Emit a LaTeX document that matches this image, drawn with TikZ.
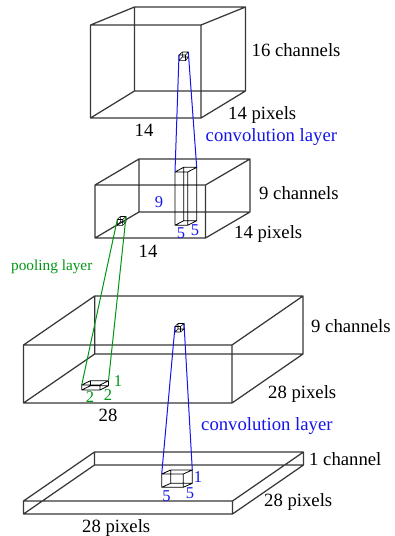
\documentclass[tikz,border=0pt]{standalone}
\usepackage{fontspec}
\setmainfont{Liberation Serif}
\definecolor{convblue}{RGB}{20,20,235}
\definecolor{poolgreen}{RGB}{0,150,20}
\tikzset{
  bigedge/.style={draw=black!78,line width=1.25pt,line join=round},
  smalledge/.style={draw=black,line width=0.8pt,line join=round},
  tinyedge/.style={draw=black,line width=0.55pt,line join=round},
  convline/.style={draw=convblue,line width=1pt},
  poolline/.style={draw=poolgreen,line width=1pt},
  txt/.style={inner sep=0pt,font=\fontsize{18.7}{20}\selectfont,anchor=base west},
  convtxt/.style={txt,text=convblue},
  dimblue/.style={inner sep=0pt,font=\fontsize{16.5}{18}\selectfont,anchor=base,text=convblue},
  dimgreen/.style={inner sep=0pt,font=\fontsize{16.5}{18}\selectfont,anchor=base,text=poolgreen},
  pooltxt/.style={inner sep=0pt,font=\fontsize{15.3}{17}\selectfont,anchor=base west,text=poolgreen}
}
% name, style, front top-left, front bottom-right, back top-left, back bottom-right
\newcommand{\wbox}[6]{%
  \coordinate (#1-ftl) at (#3);\coordinate (#1-fbr) at (#4);
  \coordinate (#1-btl) at (#5);\coordinate (#1-bbr) at (#6);
  \coordinate (#1-ftr) at (#1-fbr|-#1-ftl);\coordinate (#1-fbl) at (#1-ftl|-#1-fbr);
  \coordinate (#1-btr) at (#1-bbr|-#1-btl);\coordinate (#1-bbl) at (#1-btl|-#1-bbr);
  \path[#2] (#1-ftl)--(#1-ftr)--(#1-fbr)--(#1-fbl)--cycle
    (#1-btl)--(#1-btr)--(#1-bbr)--(#1-bbl)--cycle
    (#1-ftl)--(#1-btl) (#1-ftr)--(#1-btr) (#1-fbr)--(#1-bbr) (#1-fbl)--(#1-bbl);
}
\begin{document}
\begin{tikzpicture}[x=1pt,y=-1pt]
\useasboundingbox (0,0) rectangle (395,536);
% large boxes
\wbox{A}{bigedge}{90.5,25}{201,118}{134.5,7}{245.5,91}
\wbox{B}{bigedge}{95,185}{205.5,238}{139,159}{250,212}
\wbox{C}{bigedge}{23.5,345}{232,403}{94.7,296}{303,354}
\wbox{D}{bigedge}{23.5,501}{232.5,514}{94.5,452}{303.5,465}
% inner boxes
\wbox{a}{tinyedge}{179,55}{185.5,60.7}{182.3,52}{188.3,57}
\wbox{b}{smalledge}{175,172}{187.7,225.3}{183.7,167.3}{196.7,220.7}
\wbox{p}{tinyedge}{117.3,219.5}{122.7,225.3}{120.3,216.5}{126,222}
\wbox{c}{tinyedge}{175,326.5}{180.5,332}{178,323.5}{184,329}
\wbox{q}{smalledge}{81.7,385}{100,390}{90.5,380.7}{108.5,385.7}
\wbox{d}{smalledge}{161.7,474}{183.3,487.3}{170.7,470}{192.3,483.3}
% connectors
\draw[convline] (a-ftl)--(b-ftl);
\draw[convline] (a-btr)--(b-btr);
\draw[poolline] (p-ftl)--(q-ftl);
\draw[poolline] (p-btr)--(q-btr);
\draw[convline] (c-ftl)--(d-ftl);
\draw[convline] (c-btr)--(d-btr);
% labels
\node[txt] (t1) at (251.5,56) {16 channels};
\node[txt] (t2) at (228,119) {14 pixels};
\node[txt,anchor=base] (t3) at (144,136) {14};
\node[convtxt] (t4) at (205.5,141) {convolution layer};
\node[txt] (t5) at (259,199) {9 channels};
\node[txt] (t6) at (234,238) {14 pixels};
\node[txt,anchor=base] (t7) at (148,257) {14};
\node[dimblue] (t8) at (159,207) {9};
\node[dimblue] (t9) at (181,238) {5};
\node[dimblue] (t10) at (195,235) {5};
\node[pooltxt] (t11) at (11,270) {pooling layer};
\node[txt] (t12) at (311,332) {9 channels};
\node[txt] (t13) at (268,398) {28 pixels};
\node[txt,anchor=base] (t14) at (108,421) {28};
\node[dimgreen] (t15) at (118,386) {1};
\node[dimgreen] (t16) at (90,402) {2};
\node[dimgreen] (t17) at (108,400) {2};
\node[convtxt] (t18) at (201,430) {convolution layer};
\node[txt] (t19) at (309,465) {1 channel};
\node[txt] (t20) at (264,506) {28 pixels};
\node[txt] (t21) at (82,532) {28 pixels};
\node[dimblue] (t22) at (198,482) {1};
\node[dimblue] (t23) at (166.5,501) {5};
\node[dimblue] (t24) at (190,498) {5};
\end{tikzpicture}
\end{document}
